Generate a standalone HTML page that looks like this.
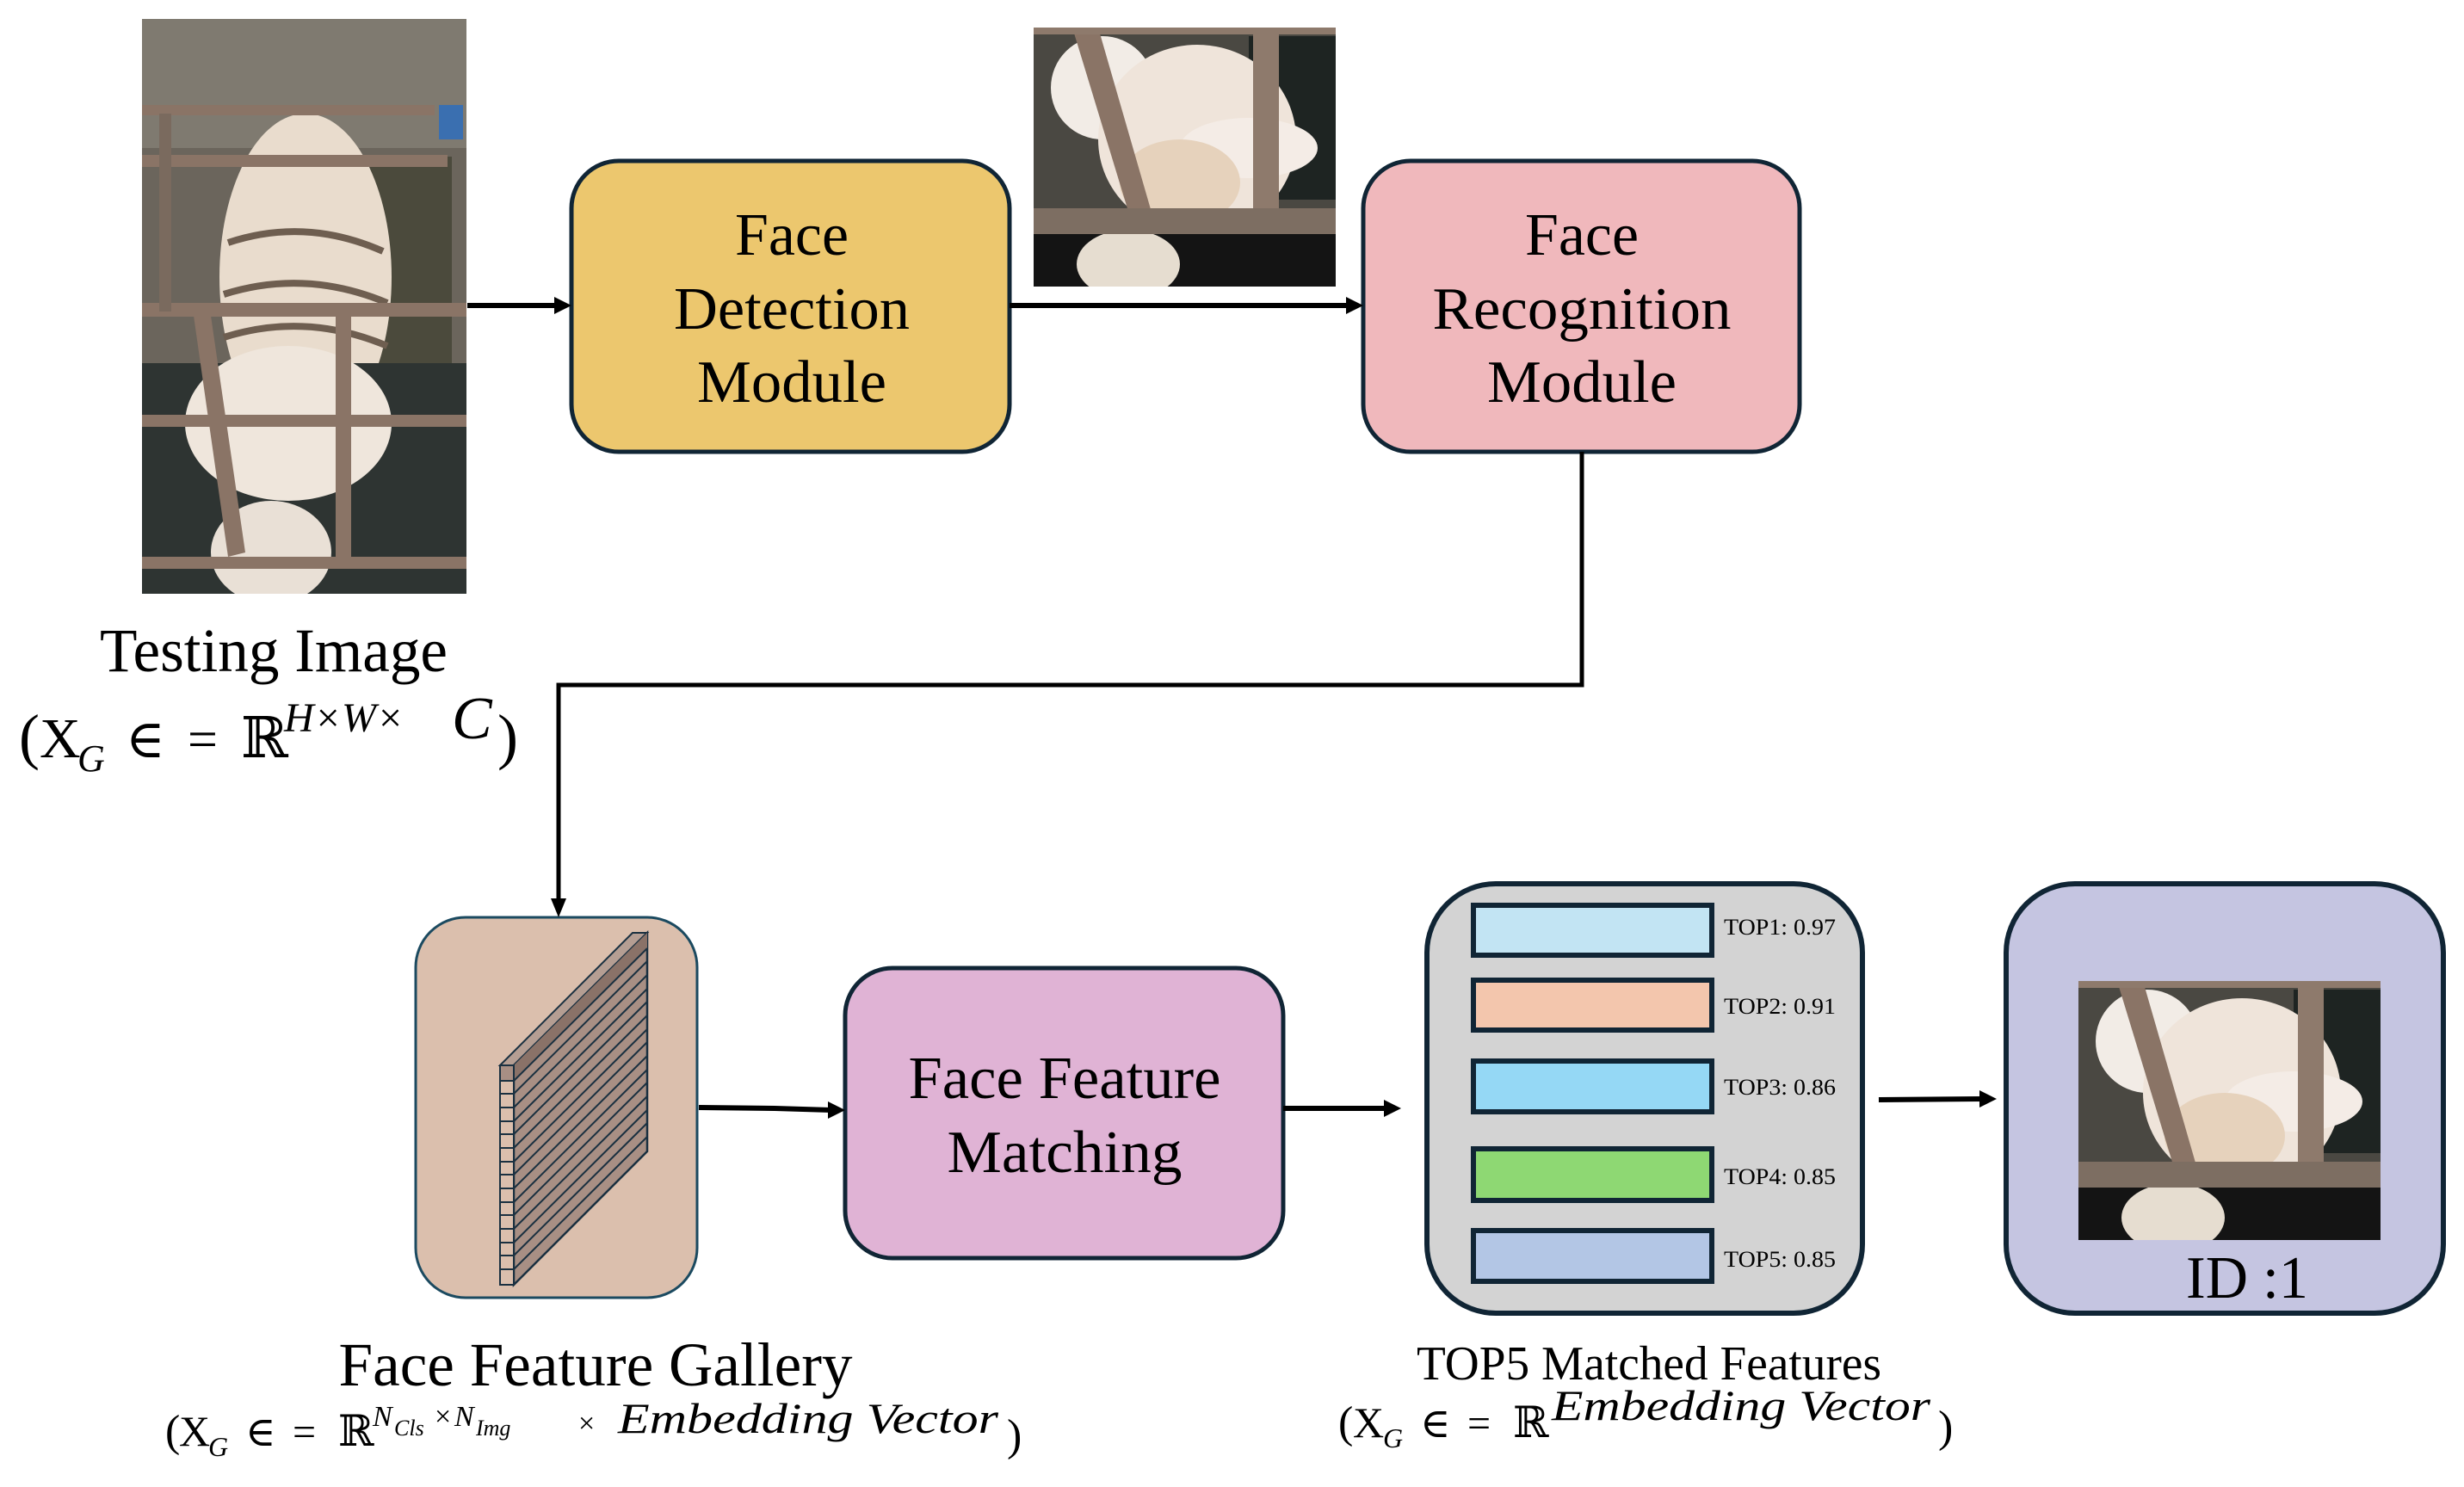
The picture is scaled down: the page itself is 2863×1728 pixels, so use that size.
<!DOCTYPE html>
<html><head><meta charset="utf-8"><style>
html,body{margin:0;padding:0;background:#fff;}
svg{display:block;}
text{font-family:"Liberation Serif","DejaVu Serif",serif;fill:#000;}
</style></head><body>
<svg width="2863" height="1728" viewBox="0 0 2863 1728" xmlns="http://www.w3.org/2000/svg" font-family="Liberation Serif, serif">
<defs>
<clipPath id="cf"><rect x="0" y="0" width="351" height="301"/></clipPath>
<clipPath id="ct"><rect x="0" y="0" width="377" height="668"/></clipPath>
<g id="face" clip-path="url(#cf)">
  <rect x="0" y="0" width="351" height="301" fill="#4a4842"/>
  <rect x="250" y="10" width="101" height="190" fill="#1e2422"/>
  <ellipse cx="80" cy="70" rx="60" ry="60" fill="#f2ece6"/>
  <ellipse cx="190" cy="130" rx="115" ry="110" fill="#efe4da"/>
  <ellipse cx="250" cy="140" rx="80" ry="35" fill="#f4ece6"/>
  <ellipse cx="170" cy="180" rx="70" ry="50" fill="#e6d2bc"/>
  <rect x="0" y="240" width="351" height="61" fill="#141414"/>
  <ellipse cx="110" cy="275" rx="60" ry="40" fill="#e6ddd0"/>
  <polygon points="45,0 75,0 140,225 115,230" fill="#8a7466"/>
  <rect x="255" y="0" width="30" height="240" fill="#8e7a6c"/>
  <rect x="0" y="210" width="351" height="30" fill="#7d6e62"/>
  <rect x="0" y="0" width="351" height="8" fill="#8e7a6c"/>
</g>
</defs>

<!-- Testing image -->
<g transform="translate(165,22)" clip-path="url(#ct)">
  <rect x="0" y="0" width="377" height="668" fill="#6b655c"/>
  <rect x="0" y="0" width="377" height="150" fill="#7f7a70"/>
  <rect x="250" y="160" width="110" height="320" fill="#4b4a3c"/>
  <ellipse cx="190" cy="300" rx="100" ry="190" fill="#e9dccd"/>
  <path d="M100,260 Q190,230 280,270" stroke="#6e5e50" stroke-width="8" fill="none"/>
  <path d="M95,320 Q190,290 285,330" stroke="#6e5e50" stroke-width="8" fill="none"/>
  <path d="M95,370 Q190,340 285,380" stroke="#6e5e50" stroke-width="8" fill="none"/>
  <rect x="0" y="400" width="377" height="268" fill="#2e3432"/>
  <ellipse cx="170" cy="470" rx="120" ry="90" fill="#efe6dc"/>
  <ellipse cx="150" cy="620" rx="70" ry="60" fill="#e9e0d6"/>
  <rect x="0" y="100" width="340" height="12" fill="#8a7466"/>
  <rect x="0" y="158" width="355" height="14" fill="#8a7466"/>
  <rect x="0" y="330" width="377" height="16" fill="#8a7466"/>
  <rect x="0" y="460" width="377" height="14" fill="#8a7466"/>
  <rect x="0" y="625" width="377" height="14" fill="#8a7466"/>
  <polygon points="60,345 80,345 120,620 100,625" fill="#8a7466"/>
  <rect x="225" y="345" width="18" height="290" fill="#8a7466"/>
  <rect x="345" y="100" width="28" height="40" fill="#3a6fb0"/>
  <rect x="20" y="110" width="14" height="230" fill="#7a6a5e"/>
</g>

<use href="#face" transform="translate(1201,32)"/>

<rect x="664" y="187" width="509" height="338" rx="55" fill="#ecc76e" stroke="#102535" stroke-width="5"/>
<rect x="1584" y="187" width="507" height="338" rx="55" fill="#f0b8bc" stroke="#102535" stroke-width="5"/>
<rect x="483" y="1066" width="327" height="442" rx="58" fill="#dbbfad" stroke="#1b4a60" stroke-width="3"/>
<rect x="982" y="1125" width="509" height="337" rx="55" fill="#e0b3d5" stroke="#102535" stroke-width="5"/>
<rect x="1658" y="1027" width="506" height="499" rx="80" fill="#d3d3d3" stroke="#102535" stroke-width="6"/>
<rect x="2331" y="1027" width="508" height="499" rx="80" fill="#c5c5e1" stroke="#102535" stroke-width="6"/>

<use href="#face" transform="translate(2415,1140)"/>

<polygon points="581,1238 735,1084 752,1084 597,1238" fill="#b59e93" stroke="#1a3040" stroke-width="2"/>
<polygon points="597,1238 752,1084 752,1338 597,1493" fill="#a88f84" stroke="#1a3040" stroke-width="2.5"/>
<polygon points="597,1238 752,1084 752,1102 597,1256" fill="#8a7268"/>
<rect x="581" y="1238" width="16" height="255" fill="#dbbfad" stroke="#1a3040" stroke-width="2"/>
<rect x="581" y="1238" width="16" height="18" fill="#a88f84" stroke="#1a3040" stroke-width="2"/>
<g stroke="#1a3040" stroke-width="2">
<line x1="581" y1="1256" x2="597" y2="1256"/><line x1="597" y1="1256" x2="752" y2="1102"/>
<line x1="581" y1="1271" x2="597" y2="1271"/><line x1="597" y1="1271" x2="752" y2="1117"/>
<line x1="581" y1="1287" x2="597" y2="1287"/><line x1="597" y1="1287" x2="752" y2="1133"/>
<line x1="581" y1="1303" x2="597" y2="1303"/><line x1="597" y1="1303" x2="752" y2="1149"/>
<line x1="581" y1="1318" x2="597" y2="1318"/><line x1="597" y1="1318" x2="752" y2="1164"/>
<line x1="581" y1="1334" x2="597" y2="1334"/><line x1="597" y1="1334" x2="752" y2="1180"/>
<line x1="581" y1="1350" x2="597" y2="1350"/><line x1="597" y1="1350" x2="752" y2="1196"/>
<line x1="581" y1="1365" x2="597" y2="1365"/><line x1="597" y1="1365" x2="752" y2="1211"/>
<line x1="581" y1="1381" x2="597" y2="1381"/><line x1="597" y1="1381" x2="752" y2="1227"/>
<line x1="581" y1="1397" x2="597" y2="1397"/><line x1="597" y1="1397" x2="752" y2="1243"/>
<line x1="581" y1="1412" x2="597" y2="1412"/><line x1="597" y1="1412" x2="752" y2="1258"/>
<line x1="581" y1="1428" x2="597" y2="1428"/><line x1="597" y1="1428" x2="752" y2="1274"/>
<line x1="581" y1="1444" x2="597" y2="1444"/><line x1="597" y1="1444" x2="752" y2="1290"/>
<line x1="581" y1="1459" x2="597" y2="1459"/><line x1="597" y1="1459" x2="752" y2="1305"/>
<line x1="581" y1="1475" x2="597" y2="1475"/><line x1="597" y1="1475" x2="752" y2="1321"/>
</g>

<g stroke="#102535" stroke-width="6">
<rect x="1712" y="1052" width="277" height="58" fill="#c2e4f3"/>
<rect x="1712" y="1139" width="277" height="58" fill="#f3c6ad"/>
<rect x="1712" y="1233" width="277" height="59" fill="#95d8f5"/>
<rect x="1712" y="1335" width="277" height="60" fill="#8ed873"/>
<rect x="1712" y="1430" width="277" height="59" fill="#b3c6e5"/>
</g>
<g font-size="26">
<text x="2003" y="1086" textLength="130" lengthAdjust="spacingAndGlyphs">TOP1: 0.97</text>
<text x="2003" y="1178" textLength="130" lengthAdjust="spacingAndGlyphs">TOP2: 0.91</text>
<text x="2003" y="1272" textLength="130" lengthAdjust="spacingAndGlyphs">TOP3: 0.86</text>
<text x="2003" y="1376" textLength="130" lengthAdjust="spacingAndGlyphs">TOP4: 0.85</text>
<text x="2003" y="1472" textLength="130" lengthAdjust="spacingAndGlyphs">TOP5: 0.85</text>
</g>

<g stroke="#000" stroke-width="6" fill="none">
<line x1="543" y1="355" x2="648" y2="355"/>
<line x1="1173" y1="355" x2="1568" y2="355"/>
<polyline points="1838,525 1838,796 649,796 649,1046" stroke-width="5"/>
<polyline points="812,1287 900,1288 966,1290"/>
<line x1="1491" y1="1288" x2="1612" y2="1288"/>
<line x1="2183" y1="1278" x2="2304" y2="1277"/>
</g>
<g fill="#000">
<polygon points="664,355 644,345 644,365"/>
<polygon points="1584,355 1564,345 1564,365"/>
<polygon points="649,1066 640,1044 658,1044"/>
<polygon points="982,1290 962,1280 962,1300"/>
<polygon points="1628,1288 1608,1278 1608,1298"/>
<polygon points="2320,1277 2300,1267 2300,1287"/>
</g>

<g font-size="70" text-anchor="middle">
<text x="920" y="296" textLength="132" lengthAdjust="spacingAndGlyphs">Face</text>
<text x="920" y="382" textLength="274" lengthAdjust="spacingAndGlyphs">Detection</text>
<text x="920" y="467" textLength="220" lengthAdjust="spacingAndGlyphs">Module</text>
<text x="1838" y="296" textLength="132" lengthAdjust="spacingAndGlyphs">Face</text>
<text x="1838" y="382" textLength="347" lengthAdjust="spacingAndGlyphs">Recognition</text>
<text x="1838" y="467" textLength="220" lengthAdjust="spacingAndGlyphs">Module</text>
<text x="1237" y="1276" textLength="363" lengthAdjust="spacingAndGlyphs">Face Feature</text>
<text x="1237" y="1362" textLength="273" lengthAdjust="spacingAndGlyphs">Matching</text>
<text x="2611" y="1508" textLength="142" lengthAdjust="spacingAndGlyphs">ID :1</text>
</g>

<text x="318" y="780" font-size="72" text-anchor="middle" textLength="404" lengthAdjust="spacingAndGlyphs">Testing Image</text>
<text x="22" y="880" font-size="72">(</text>
<text x="46" y="880" font-size="66">X</text>
<text x="90" y="896" font-size="44" font-style="italic">G</text>
<text x="146" y="880" font-size="62">∈</text>
<text x="218" y="880" font-size="62">=</text>
<text x="280" y="880" font-size="66">ℝ</text>
<text x="330" y="850" font-size="48" font-style="italic">H×W×</text>
<text x="525" y="858" font-size="70" font-style="italic">C</text>
<text x="578" y="880" font-size="72">)</text>

<text x="692" y="1610" font-size="72" text-anchor="middle" textLength="597" lengthAdjust="spacingAndGlyphs">Face Feature Gallery</text>
<text x="192" y="1680" font-size="52">(</text>
<text x="208" y="1680" font-size="50">X</text>
<text x="242" y="1692" font-size="32" font-style="italic">G</text>
<text x="285" y="1680" font-size="48">∈</text>
<text x="340" y="1680" font-size="48">=</text>
<text x="393" y="1680" font-size="50">ℝ</text>
<text x="433" y="1657" font-size="34" font-style="italic">N</text>
<text x="458" y="1668" font-size="26" font-style="italic">Cls</text>
<text x="505" y="1657" font-size="34">×</text>
<text x="528" y="1657" font-size="34" font-style="italic">N</text>
<text x="553" y="1668" font-size="26" font-style="italic">Img</text>
<text x="672" y="1665" font-size="34">×</text>
<text x="718" y="1665" font-size="50" font-style="italic" textLength="442" lengthAdjust="spacingAndGlyphs">Embedding Vector</text>
<text x="1170" y="1685" font-size="52">)</text>

<text x="1916" y="1603" font-size="56" text-anchor="middle" textLength="540" lengthAdjust="spacingAndGlyphs">TOP5 Matched Features</text>
<text x="1555" y="1670" font-size="52">(</text>
<text x="1572" y="1670" font-size="50">X</text>
<text x="1607" y="1682" font-size="32" font-style="italic">G</text>
<text x="1650" y="1670" font-size="48">∈</text>
<text x="1705" y="1670" font-size="48">=</text>
<text x="1758" y="1670" font-size="50">ℝ</text>
<text x="1803" y="1650" font-size="50" font-style="italic" textLength="440" lengthAdjust="spacingAndGlyphs">Embedding Vector</text>
<text x="2252" y="1675" font-size="52">)</text>
</svg>
</body></html>
